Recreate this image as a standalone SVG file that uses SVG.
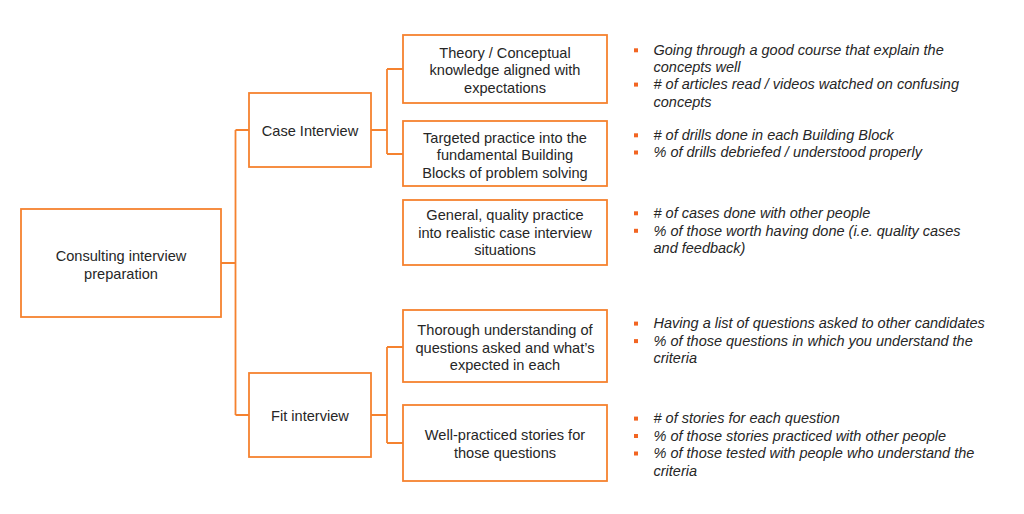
<svg xmlns="http://www.w3.org/2000/svg" width="1024" height="514" viewBox="0 0 1024 514">
<style>
.box{fill:#fff;stroke:#F5822F;stroke-width:1.8}
.ln{fill:none;stroke:#F5822F;stroke-width:1.8}
.t{font-family:"Liberation Sans",Arial,sans-serif;font-size:14.6px;fill:#262626;text-anchor:middle}
.b{font-family:"Liberation Sans",Arial,sans-serif;font-size:14.5px;font-style:italic;fill:#262626}
.sq{fill:#F26522}
</style>
<rect width="1024" height="514" fill="#fff"/>
<g id="connectors">
<path class="ln" d="M221,263 H235.5 M235.5,130 V415 M235.5,130 H249 M235.5,415 H249"/>
<path class="ln" d="M371,130 H387 M387,69 V154 M387,69 H403 M387,154 H403"/>
<path class="ln" d="M371,415 H387 M387,347 V443 M387,347 H403 M387,443 H403"/>
</g>
<g id="root">
<rect class="box" x="21" y="209" width="200" height="108"/>
<text class="t" x="121" y="261">Consulting interview</text>
<text class="t" x="121" y="278.5">preparation</text>
</g>
<g id="case">
<rect class="box" x="249" y="93" width="122" height="74"/>
<text class="t" x="310" y="136">Case Interview</text>
</g>
<g id="fit">
<rect class="box" x="249" y="373" width="122" height="84"/>
<text class="t" x="310" y="420.5">Fit interview</text>
</g>
<g id="theory">
<rect class="box" x="403" y="35" width="204" height="68"/>
<text class="t" x="505" y="57.5">Theory / Conceptual</text>
<text class="t" x="505" y="75">knowledge aligned with</text>
<text class="t" x="505" y="92.5">expectations</text>
</g>
<g id="targeted">
<rect class="box" x="403" y="121" width="204" height="65"/>
<text class="t" x="505" y="142.5">Targeted practice into the</text>
<text class="t" x="505" y="160">fundamental Building</text>
<text class="t" x="505" y="177.5">Blocks of problem solving</text>
</g>
<g id="general">
<rect class="box" x="403" y="200" width="204" height="65"/>
<text class="t" x="505" y="220">General, quality practice</text>
<text class="t" x="505" y="237.5">into realistic case interview</text>
<text class="t" x="505" y="255">situations</text>
</g>
<g id="thorough">
<rect class="box" x="403" y="310" width="204" height="72"/>
<text class="t" x="505" y="335">Thorough understanding of</text>
<text class="t" x="505" y="352.5">questions asked and what’s</text>
<text class="t" x="505" y="370">expected in each</text>
</g>
<g id="stories">
<rect class="box" x="403" y="405" width="204" height="76"/>
<text class="t" x="505" y="440">Well-practiced stories for</text>
<text class="t" x="505" y="457.5">those questions</text>
</g>
<g id="bullets-theory">
<rect class="sq" x="634" y="48.3" width="4" height="4"/>
<text class="b" x="653.5" y="55">Going through a good course that explain the</text>
<text class="b" x="653.5" y="72">concepts well</text>
<rect class="sq" x="634" y="82.6" width="4" height="4"/>
<text class="b" x="653.5" y="89.3"># of articles read / videos watched on confusing</text>
<text class="b" x="653.5" y="106.6">concepts</text>
</g>
<g id="bullets-targeted">
<rect class="sq" x="634" y="133.3" width="4" height="4"/>
<text class="b" x="653.5" y="140"># of drills done in each Building Block</text>
<rect class="sq" x="634" y="150.5" width="4" height="4"/>
<text class="b" x="653.5" y="157.2">% of drills debriefed / understood properly</text>
</g>
<g id="bullets-general">
<rect class="sq" x="634" y="211.3" width="4" height="4"/>
<text class="b" x="653.5" y="218"># of cases done with other people</text>
<rect class="sq" x="634" y="228.8" width="4" height="4"/>
<text class="b" x="653.5" y="235.5">% of those worth having done (i.e. quality cases</text>
<text class="b" x="653.5" y="252.7">and feedback)</text>
</g>
<g id="bullets-thorough">
<rect class="sq" x="634" y="321.6" width="4" height="4"/>
<text class="b" x="653.5" y="328.3">Having a list of questions asked to other candidates</text>
<rect class="sq" x="634" y="339.1" width="4" height="4"/>
<text class="b" x="653.5" y="345.8">% of those questions in which you understand the</text>
<text class="b" x="653.5" y="363.2">criteria</text>
</g>
<g id="bullets-stories">
<rect class="sq" x="634" y="416.6" width="4" height="4"/>
<text class="b" x="653.5" y="423.3"># of stories for each question</text>
<rect class="sq" x="634" y="434" width="4" height="4"/>
<text class="b" x="653.5" y="440.7">% of those stories practiced with other people</text>
<rect class="sq" x="634" y="451.5" width="4" height="4"/>
<text class="b" x="653.5" y="458.2">% of those tested with people who understand the</text>
<text class="b" x="653.5" y="475.6">criteria</text>
</g>
</svg>
